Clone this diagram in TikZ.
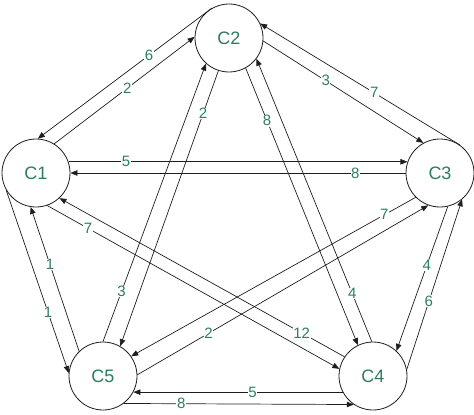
\documentclass[tikz,border=0pt]{standalone}
\usepackage{fontspec}
\setmainfont{Liberation Sans}
\usetikzlibrary{arrows.meta}
\definecolor{lbl}{RGB}{45,125,95}
\definecolor{ln}{RGB}{30,30,30}
\begin{document}
\begin{tikzpicture}[x=1pt,y=-1pt,
  city/.style={circle,draw=ln,line width=0.8pt,fill=white,minimum size=68pt,inner sep=0pt,
    text=lbl,font=\fontsize{18}{20}\selectfont},
  link/.style={draw=ln,line width=0.7pt,-{Triangle[length=7pt,width=5.5pt]}},
  wt/.style={fill=white,inner sep=0.6pt,text=lbl,font=\fontsize{15}{17}\selectfont}]
\useasboundingbox (0,0) rectangle (474,415);
\node[city] (C1) at (36,173) {C1};
\node[city] (C2) at (229,38) {C2};
\node[city] (C3) at (440,173) {C3};
\node[city] (C4) at (373,376) {C4};
\node[city] (C5) at (103,376) {C5};
% C1 - C2
\draw[link] (C2.120) -- node[wt,pos=0.36] (w1) {6} (C1.87);
\draw[link] (C1.58) -- node[wt,pos=0.52] (w2) {2} (C2.178);
% C2 - C3
\draw[link] (C2.-5) -- node[wt,pos=0.39] (w3) {3} (C3.119);
\draw[link] (C3.54) -- node[wt,pos=0.43] (w4) {7} (C2.25);
% C1 - C3
\draw[link] (C1.19) -- node[wt,pos=0.17] (w5) {5} (C3.161);
\draw[link] (C3.180) -- node[wt,pos=0.15] (w6) {8} (C1.0);
% C1 - C5
\draw[link] (C1.210) -- node[wt,pos=0.67] (w7) {1} (C5.175);
\draw[link] (C5.134) -- node[wt,pos=0.60] (w8) {1} (C1.261);
% C2 - C5
\draw[link] (C2.252) -- node[wt,pos=0.155] (w9) {2} (C5.60);
\draw[link] (C5.90) -- node[wt,pos=0.18] (w10) {3} (C2.228);
% C2 - C4
\draw[link] (C2.299) -- node[wt,pos=0.19] (w11) {8} (C4.116);
\draw[link] (C4.92) -- node[wt,pos=0.17] (w12) {4} (C2.323);
% C3 - C4
\draw[link] (C3.283) -- node[wt,pos=0.41] (w13) {4} (C4.47);
\draw[link] (C4.11) -- node[wt,pos=0.40] (w14) {6} (C3.310);
% C1 - C4
\draw[link] (C1.289) -- node[wt,pos=0.14] (w15) {7} (C4.168);
\draw[link] (C4.146) -- node[wt,pos=0.15] (w16) {12} (C1.313);
% C3 - C5
\draw[link] (C3.225) -- node[wt,pos=0.11] (w17) {7} (C5.35);
\draw[link] (C5.2) -- node[wt,pos=0.245] (w18) {2} (C3.250);
% C4 - C5
\draw[link] (C4.208) -- node[wt,pos=0.43] (w19) {5} (C5.332);
\draw[link] (C5.307) -- node[wt,pos=0.25] (w20) {8} (C4.236);
\end{tikzpicture}
\end{document}
